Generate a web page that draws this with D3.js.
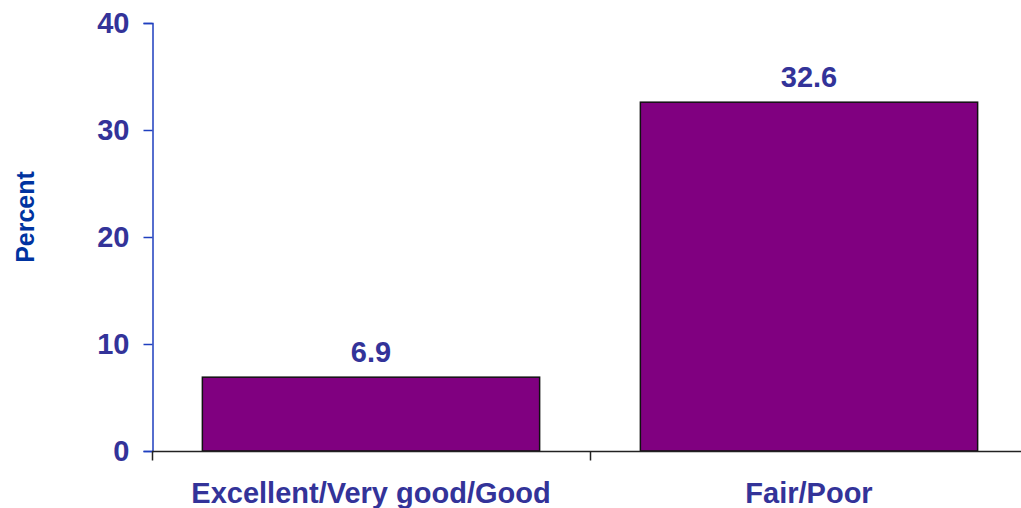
<!DOCTYPE html>
<html>
<head>
<meta charset="utf-8">
<script src="https://cdn.jsdelivr.net/npm/d3@7"></script>
<style>
  html, body { margin: 0; padding: 0; background: #fff; }
  svg { display: block; }
  text { font-family: "Liberation Sans", Arial, sans-serif; font-weight: bold; }
</style>
</head>
<body>
<svg id="chart" width="1021" height="508"></svg>
<script>
// Share of respondents, by self-rated health status
const categories = ["Excellent/Very good/Good", "Fair/Poor"];
const values = [6.9, 32.6];
const yTicks = [0, 10, 20, 30, 40];
const yLabel = "Percent";

const svg = d3.select("#chart");
const margin = { left: 152, right: -7, top: 23, bottom: 57 };
const W = 1021, H = 508;

const x = d3.scaleBand()
  .domain(categories)
  .range([margin.left, W - margin.right])
  .paddingInner(0.23)
  .paddingOuter(0.115);

const y = d3.scaleLinear()
  .domain([0, 40])
  .range([H - margin.bottom, margin.top]);

// Bars
svg.append("g")
  .selectAll("rect")
  .data(values)
  .join("rect")
  .attr("x", (d, i) => x(categories[i]))
  .attr("y", d => y(d))
  .attr("width", x.bandwidth())
  .attr("height", d => y(0) - y(d))
  .attr("fill", "#800080")
  .attr("stroke", "#111")
  .attr("stroke-width", 1.5);

// Value labels
svg.append("g")
  .selectAll("text")
  .data(values)
  .join("text")
  .attr("x", (d, i) => x(categories[i]) + x.bandwidth() / 2)
  .attr("y", d => y(d) - 15)
  .attr("text-anchor", "middle")
  .attr("font-size", 29)
  .attr("fill", "#333399")
  .text(d => d.toFixed(1));

// Y axis
const yAxis = svg.append("g")
  .attr("transform", `translate(${margin.left + 0.5},0)`)
  .call(d3.axisLeft(y).tickValues(yTicks).tickSize(9).tickPadding(14));
yAxis.select(".domain").attr("stroke", "#1f3fbf").attr("stroke-width", 1.5);
yAxis.selectAll(".tick line").attr("stroke", "#1f3fbf").attr("stroke-width", 1.5);
yAxis.selectAll(".tick text")
  .attr("font-size", 29)
  .attr("font-family", "Liberation Sans, Arial, sans-serif")
  .attr("font-weight", "bold")
  .attr("fill", "#333399");

// X axis with ticks on band boundaries
const xAxisY = y(0) + 0.5;
const xg = svg.append("g");
xg.append("line")
  .attr("x1", margin.left).attr("x2", W)
  .attr("y1", xAxisY).attr("y2", xAxisY)
  .attr("stroke", "#222").attr("stroke-width", 1.5);
const boundaries = [margin.left, (x(categories[0]) + x.bandwidth() + x(categories[1])) / 2];
xg.selectAll("line.tk")
  .data(boundaries)
  .join("line")
  .attr("class", "tk")
  .attr("x1", d => d + 0.5).attr("x2", d => d + 0.5)
  .attr("y1", xAxisY).attr("y2", xAxisY + 9)
  .attr("stroke", "#222").attr("stroke-width", 1.5);

// Category labels
svg.append("g")
  .selectAll("text")
  .data(categories)
  .join("text")
  .attr("x", d => x(d) + x.bandwidth() / 2)
  .attr("y", H - 5)
  .attr("text-anchor", "middle")
  .attr("font-size", 29)
  .attr("fill", "#333399")
  .text(d => d);

// Y axis title
svg.append("text")
  .attr("transform", `translate(34,${(y(0) + y(40)) / 2 - 20}) rotate(-90)`)
  .attr("text-anchor", "middle")
  .attr("font-size", 25)
  .attr("fill", "#0033a0")
  .text(yLabel);
</script>
</body>
</html>
